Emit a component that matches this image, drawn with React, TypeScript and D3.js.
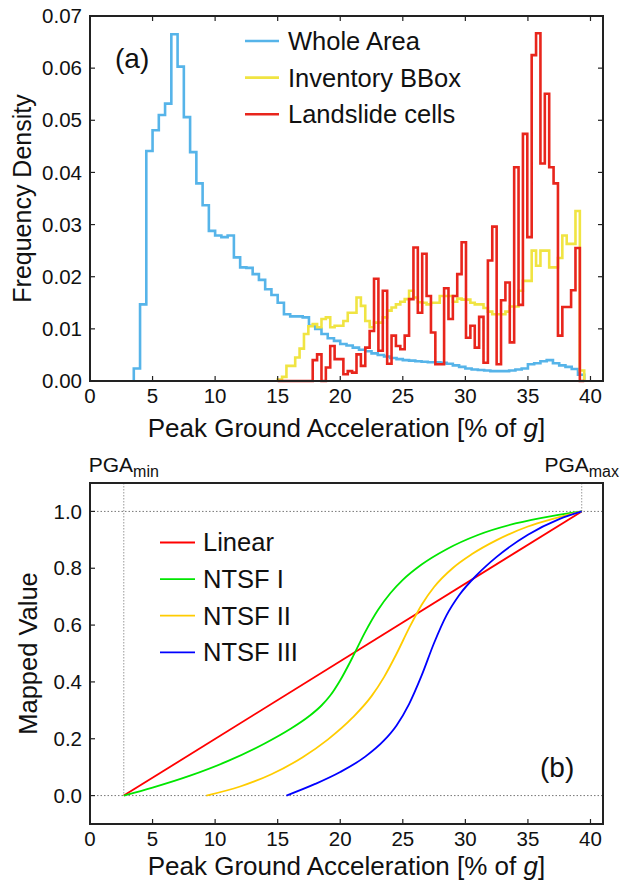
import React from "react";
import * as d3 from "d3";

// ---------- DATA ----------
// Histogram (a): Whole Area, bins of 0.5 starting at 3.5
const wholeAreaStart = 3.5;
const wholeAreaBinWidth = 0.5;
const wholeArea = [
  0.0024, 0.0147, 0.0441, 0.0481, 0.051, 0.0532, 0.0665, 0.0603, 0.0506, 0.0439,
  0.0379, 0.0337, 0.0288, 0.0279, 0.0276, 0.0279, 0.0237, 0.0218, 0.0217, 0.0205,
  0.0194, 0.0176, 0.0165, 0.015, 0.0128, 0.0124, 0.0124, 0.0122, 0.0106, 0.01,
  0.009, 0.0082, 0.0077, 0.0071, 0.0068, 0.0064, 0.006, 0.0057, 0.0053, 0.005,
  0.0047, 0.0044, 0.0042, 0.004, 0.0039, 0.0038, 0.0037, 0.0036, 0.0036, 0.0035,
  0.0033, 0.003, 0.0027, 0.0024, 0.0022, 0.0021, 0.002, 0.0019, 0.0019, 0.0019,
  0.002, 0.0022, 0.0024, 0.0032, 0.0034, 0.0038, 0.004, 0.0034, 0.003, 0.0027,
  0.0023, 0.0012,
];
// Inventory BBox & Landslide cells share bins of 0.35 starting at 15.0
const invStart = 15.0;
const invBinWidth = 0.35;
const inventoryBBox = [
  0.0003, 0.0008, 0.0029, 0.0029, 0.0045, 0.0062, 0.009, 0.0105, 0.0109, 0.0103,
  0.0119, 0.0122, 0.0103, 0.0106, 0.0106, 0.0115, 0.0131, 0.0131, 0.016, 0.0144,
  0.0115, 0.0103, 0.0112, 0.0112, 0.0122, 0.0135, 0.0141, 0.0147, 0.0152, 0.0157,
  0.0173, 0.016, 0.0151, 0.015, 0.0147, 0.015, 0.015, 0.0163, 0.0163, 0.0163,
  0.0152, 0.0158, 0.0156, 0.0156, 0.015, 0.0147, 0.0147, 0.014, 0.0133, 0.0128,
  0.0128, 0.0128, 0.0133, 0.0143, 0.0143, 0.0173, 0.0192, 0.0192, 0.025, 0.0221,
  0.025, 0.025, 0.0218, 0.0218, 0.0236, 0.0279, 0.0263, 0.0263, 0.0326, 0.002,
];
const landslideCells = [
  0, 0, 0, 0, 0, 0, 0, 0, 0.004, 0.0051,
  0, 0.0026, 0.0067, 0.0042, 0.0042, 0.0013, 0.0019, 0.0016, 0.0051, 0.0029,
  0.0064, 0.0096, 0.0196, 0.0058, 0.0173, 0.0033, 0.0087, 0.0067, 0.0061, 0.0087,
  0.0157, 0.0256, 0.0131, 0.0244, 0.0163, 0.0093, 0.0032, 0.0032, 0.0178, 0.0119,
  0.0163, 0.0205, 0.0266, 0.0083, 0.0106, 0.0064, 0.0123, 0.0035, 0.0231, 0.0296,
  0.0032, 0.0155, 0.0189, 0.0074, 0.041, 0.0146, 0.0474, 0.0276, 0.0625, 0.0667,
  0.0417, 0.0551, 0.041, 0.0379, 0.0087, 0.0142, 0.0142, 0.0174, 0.0255, 0,
];

// Panel (b): mapping functions [PGA, mapped value]
const PGA_MIN = 2.7;
const PGA_MAX = 39.3;
const linearPts: [number, number][] = [
  [2.7, 0], [39.3, 1],
];
const ntsf1Pts: [number, number][] = [
  [2.7, 0], [5, 0.028], [8, 0.07], [11, 0.121], [14, 0.184], [16, 0.234],
  [17.5, 0.279], [18.5, 0.317], [19.2, 0.352], [20, 0.406], [21, 0.488],
  [22, 0.576], [23, 0.652], [24, 0.712], [25, 0.759], [26.5, 0.813],
  [28.5, 0.867], [31, 0.917], [34, 0.9575], [37, 0.9845], [39.3, 1],
];
const ntsf2Pts: [number, number][] = [
  [9.3, 0], [12, 0.032], [14.5, 0.075], [17, 0.135], [19, 0.197], [21, 0.275],
  [22.5, 0.35], [23.5, 0.417], [24.5, 0.499], [25.5, 0.589], [26.5, 0.671],
  [27.5, 0.734], [29, 0.801], [30.5, 0.849], [32.5, 0.899], [35, 0.947],
  [37, 0.974], [39.3, 1],
];
const ntsf3Pts: [number, number][] = [
  [15.7, 0], [18, 0.041], [20, 0.083], [22, 0.137], [23.5, 0.194], [24.5, 0.247],
  [25.5, 0.322], [26.5, 0.422], [27.5, 0.537], [28.5, 0.635], [29.5, 0.705],
  [31, 0.78], [32.5, 0.84], [35, 0.918], [37.5, 0.973], [39.3, 1],
];

const xTicks = [0, 5, 10, 15, 20, 25, 30, 35, 40];
const yTicksA = [0, 0.01, 0.02, 0.03, 0.04, 0.05, 0.06, 0.07];
const yTicksB = [0, 0.2, 0.4, 0.6, 0.8, 1.0];

const legendA = [
  { label: "Whole Area", color: "#56B4E9" },
  { label: "Inventory BBox", color: "#F0E442" },
  { label: "Landslide cells", color: "#E8251C" },
];
const legendB = [
  { label: "Linear", color: "#FF0000" },
  { label: "NTSF I", color: "#00E600" },
  { label: "NTSF II", color: "#FFCC00" },
  { label: "NTSF III", color: "#0000FF" },
];

// ---------- LAYOUT ----------
const W = 622;
const H = 885;
const FONT = "'Liberation Sans', Arial, Helvetica, sans-serif";
const L = 90;
const R = 603;
const topA = 16;
const botA = 381;
const topB = 483;
const botB = 824;
const TICK = 5;

const x = d3.scaleLinear().domain([0, 41]).range([L, R]);
const yA = d3.scaleLinear().domain([0, 0.07]).range([botA, topA]);
const yB = d3.scaleLinear().domain([-0.1, 1.1]).range([botB, topB]);

function stepPoints(start: number, w: number, vals: number[]): [number, number][] {
  const pts: [number, number][] = [[start, 0]];
  vals.forEach((v, i) => {
    pts.push([start + i * w, v]);
    pts.push([start + (i + 1) * w, v]);
  });
  pts.push([start + vals.length * w, 0]);
  return pts;
}

const histLine = d3
  .line<[number, number]>()
  .x((d) => x(d[0]))
  .y((d) => yA(d[1]));

const curveLine = d3
  .line<[number, number]>()
  .x((d) => x(d[0]))
  .y((d) => yB(d[1]))
  .curve(d3.curveMonotoneX);

export default function App() {
  const frameColor = "#222";
  const tickSize = 20.5;

  const xLabel = (baseline: number) => (
    <text
      x={(L + R) / 2}
      y={baseline}
      textAnchor="middle"
      fontSize={26}
      fontFamily={FONT}
      fill="#111"
    >
      Peak Ground Acceleration [% of <tspan fontStyle="italic">g</tspan>]
    </text>
  );

  return (
    <svg
      width={W}
      height={H}
      style={{ position: "absolute", left: 0, top: 0, background: "#fff" }}
      fontFamily={FONT}
    >
      <rect x={0} y={0} width={W} height={H} fill="#fff" />

      {/* ================= Panel (a) ================= */}
      <path
        d={histLine(stepPoints(wholeAreaStart, wholeAreaBinWidth, wholeArea)) || ""}
        fill="none"
        stroke={legendA[0].color}
        strokeWidth={2.6}
      />
      <path
        d={histLine(stepPoints(invStart, invBinWidth, inventoryBBox)) || ""}
        fill="none"
        stroke={legendA[1].color}
        strokeWidth={2.6}
      />
      <path
        d={histLine(stepPoints(invStart, invBinWidth, landslideCells)) || ""}
        fill="none"
        stroke={legendA[2].color}
        strokeWidth={2.6}
      />

      {/* frame A */}
      <rect x={L} y={topA} width={R - L} height={botA - topA} fill="none" stroke={frameColor} strokeWidth={2} />
      {xTicks.map((t) => (
        <g key={"xa" + t}>
          <line x1={x(t)} x2={x(t)} y1={botA} y2={botA - TICK} stroke={frameColor} strokeWidth={1.2} />
          <line x1={x(t)} x2={x(t)} y1={topA} y2={topA + TICK} stroke={frameColor} strokeWidth={1.2} />
          <text x={x(t)} y={botA + 22} textAnchor="middle" fontSize={tickSize} fill="#111">
            {t}
          </text>
        </g>
      ))}
      {yTicksA.map((t) => (
        <g key={"ya" + t}>
          <line x1={L} x2={L + TICK} y1={yA(t)} y2={yA(t)} stroke={frameColor} strokeWidth={1.2} />
          <line x1={R} x2={R - TICK} y1={yA(t)} y2={yA(t)} stroke={frameColor} strokeWidth={1.2} />
          <text x={L - 8} y={yA(t)} dy="0.35em" textAnchor="end" fontSize={tickSize} fill="#111">
            {d3.format(".2f")(t)}
          </text>
        </g>
      ))}
      {xLabel(437)}
      <text
        transform={`translate(22, ${(topA + botA) / 2}) rotate(-90)`}
        textAnchor="middle"
        dy="0.35em"
        fontSize={25}
        fill="#111"
      >
        Frequency Density
      </text>
      <text x={115} y={68} fontSize={28} fill="#111">
        (a)
      </text>
      {legendA.map((d, i) => (
        <g key={d.label} transform={`translate(0, ${41 + i * 36.6})`}>
          <line x1={245} x2={279} y1={0} y2={0} stroke={d.color} strokeWidth={2.6} />
          <text x={288} y={0} dy="0.35em" fontSize={25.5} fill="#111">
            {d.label}
          </text>
        </g>
      ))}

      {/* ================= Panel (b) ================= */}
      <line x1={L} x2={R} y1={yB(1)} y2={yB(1)} stroke="#777" strokeWidth={1} strokeDasharray="1.5,2" />
      <line x1={L} x2={R} y1={yB(0)} y2={yB(0)} stroke="#777" strokeWidth={1} strokeDasharray="1.5,2" />
      <line x1={x(PGA_MIN)} x2={x(PGA_MIN)} y1={topB} y2={yB(0)} stroke="#999" strokeWidth={1} strokeDasharray="1.5,1.5" />
      <line x1={x(PGA_MAX)} x2={x(PGA_MAX)} y1={topB} y2={yB(1)} stroke="#999" strokeWidth={1} strokeDasharray="1.5,1.5" />

      <path d={curveLine(linearPts) || ""} fill="none" stroke={legendB[0].color} strokeWidth={1.8} />
      <path d={curveLine(ntsf1Pts) || ""} fill="none" stroke={legendB[1].color} strokeWidth={1.8} />
      <path d={curveLine(ntsf2Pts) || ""} fill="none" stroke={legendB[2].color} strokeWidth={1.8} />
      <path d={curveLine(ntsf3Pts) || ""} fill="none" stroke={legendB[3].color} strokeWidth={1.8} />

      <rect x={L} y={topB} width={R - L} height={botB - topB} fill="none" stroke={frameColor} strokeWidth={2} />
      {xTicks.map((t) => (
        <g key={"xb" + t}>
          <line x1={x(t)} x2={x(t)} y1={botB} y2={botB - TICK} stroke={frameColor} strokeWidth={1.2} />
          <text x={x(t)} y={botB + 22} textAnchor="middle" fontSize={tickSize} fill="#111">
            {t}
          </text>
        </g>
      ))}
      {yTicksB.map((t) => (
        <g key={"yb" + t}>
          <line x1={L} x2={L + TICK} y1={yB(t)} y2={yB(t)} stroke={frameColor} strokeWidth={1.2} />
          <text x={L - 8} y={yB(t)} dy="0.35em" textAnchor="end" fontSize={tickSize} fill="#111">
            {d3.format(".1f")(t)}
          </text>
        </g>
      ))}
      {xLabel(875)}
      <text
        transform={`translate(28, ${(topB + botB) / 2}) rotate(-90)`}
        textAnchor="middle"
        dy="0.35em"
        fontSize={25.5}
        fill="#111"
      >
        Mapped Value
      </text>
      <text x={540} y={777} fontSize={28} fill="#111">
        (b)
      </text>
      <text x={x(PGA_MIN)} y={472} textAnchor="middle" fontSize={21} fill="#111">
        PGA<tspan fontSize={16} dy={5}>min</tspan>
      </text>
      <text x={x(PGA_MAX)} y={472} textAnchor="middle" fontSize={21} fill="#111">
        PGA<tspan fontSize={16} dy={5}>max</tspan>
      </text>
      {legendB.map((d, i) => (
        <g key={d.label} transform={`translate(0, ${542.5 + i * 36.6})`}>
          <line x1={160} x2={195} y1={0} y2={0} stroke={d.color} strokeWidth={1.8} />
          <text x={203} y={0} dy="0.35em" fontSize={25.5} fill="#111">
            {d.label}
          </text>
        </g>
      ))}
    </svg>
  );
}
